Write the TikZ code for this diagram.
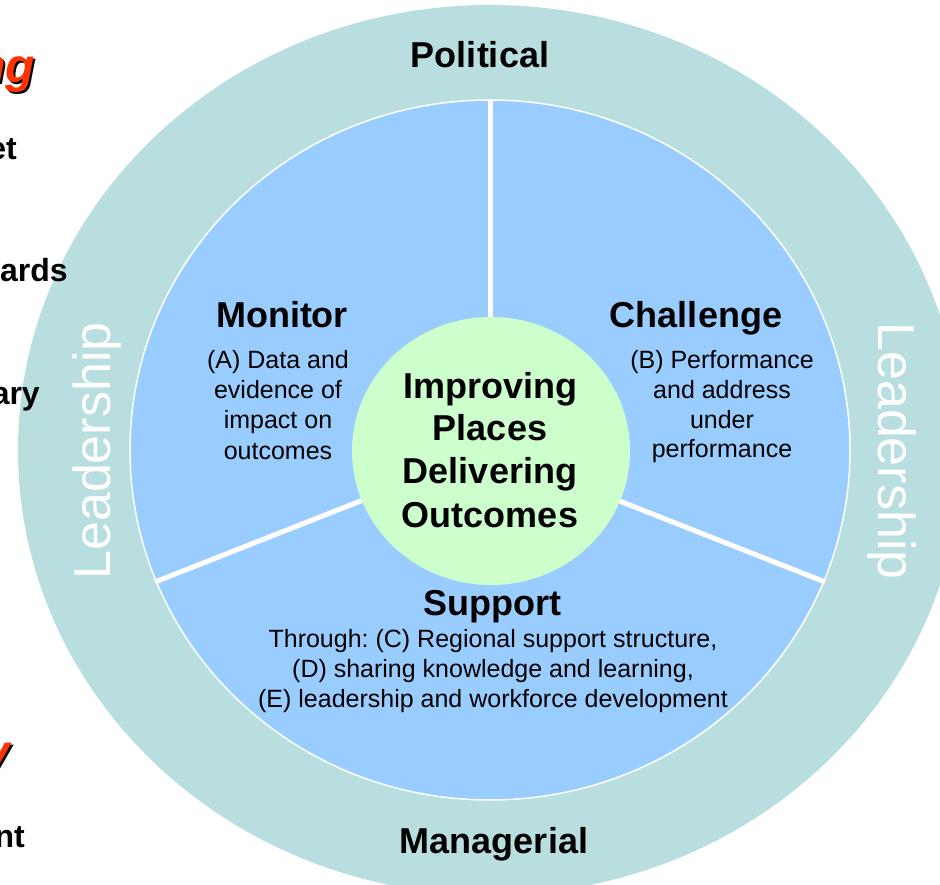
\documentclass[tikz,border=0pt]{standalone}
\usepackage{fontspec}
\setmainfont{Liberation Sans}
\frenchspacing
\definecolor{ringteal}{HTML}{B8DEE0}
\definecolor{wheelblue}{HTML}{99CCFF}
\definecolor{hubgreen}{HTML}{CCFFCC}
\definecolor{slideorange}{HTML}{FF3300}
\begin{document}
\begin{tikzpicture}[x=1pt,y=-1pt,
  big/.style={font=\fontsize{36}{41}\selectfont\bfseries, inner sep=0pt, anchor=base},
  small/.style={font=\fontsize{25}{30}\selectfont, inner sep=0pt, anchor=base},
  lead/.style={font=\fontsize{52}{60}\selectfont, text=white, inner sep=0pt, anchor=base},
  frag/.style={font=\fontsize{32}{38}\selectfont\bfseries, inner sep=0pt, anchor=base east},
  fragor/.style={font=\fontsize{48}{56}\selectfont\bfseries\itshape, inner sep=0pt, anchor=base east, text=slideorange},
  fragsh/.style={font=\fontsize{48}{56}\selectfont\bfseries\itshape, inner sep=0pt, anchor=base east, text=black},
  divider/.style={draw=white, line width=5pt}]
\useasboundingbox (0,0) rectangle (940,885);
\clip (0,0) rectangle (940,885);
\fill[white] (0,0) rectangle (940,885);

\coordinate (c) at (490,450);
\fill[ringteal] (c) ellipse [x radius=472pt, y radius=445pt];
\fill[wheelblue] (c) ellipse [x radius=360pt, y radius=350pt];
\draw[white, line width=1.5pt] (c) ellipse [x radius=360pt, y radius=350pt];

\coordinate (dtop) at (490,100);
\coordinate (dleft) at (155,582);
\coordinate (dright) at (825,582);
\draw[divider] (c) -- (dtop);
\draw[divider] (c) -- (dleft);
\draw[divider] (c) -- (dright);

\coordinate (hubc) at (491,451);
\fill[hubgreen] (hubc) ellipse [x radius=139pt, y radius=134pt];

% hub text
\node[big] (h1) at (490,398) {Improving};
\node[big] (h2) at (490,440) {Places};
\node[big] (h3) at (490,483) {Delivering};
\node[big] (h4) at (490,527) {Outcomes};

% Monitor
\node[big] (mon) at (282,327) {Monitor};
\node[small] (mon1) at (278,369) {(A) Data and};
\node[small] (mon2) at (278,398) {evidence of};
\node[small] (mon3) at (278,428) {impact on};
\node[small] (mon4) at (278,459) {outcomes};

% Challenge
\node[big] (cha) at (696,327) {Challenge};
\node[small] (cha1) at (722,369) {(B) Performance};
\node[small] (cha2) at (722,398) {and address};
\node[small] (cha3) at (722,428) {under};
\node[small] (cha4) at (722,457) {performance};

% Support
\node[big] (sup) at (492,615) {Support};
\node[small] (sup1) at (493,647) {Through: (C) Regional support structure,};
\node[small] (sup2) at (493,677) {(D) sharing knowledge and learning,};
\node[small] (sup3) at (493,707) {(E) leadership and workforce development};

% ring labels
\node[big] (pol) at (480,68) {Political};
\node[big] (man) at (494,853) {Managerial};
\node[lead, rotate=90] (leadl) at (110,451) {Leadership};
\node[lead, rotate=-90] (leadr) at (878,451) {Leadership};

% fragments of slide text at the left edge
\node[fragsh] (or1s) at (37,85) {ng};
\node[fragor] (or1) at (35,83) {ng};
\node[frag] (f1) at (17,160) {et};
\node[frag] (f2) at (68,282) {ards};
\node[frag] (f3) at (40,404) {ary};
\node[fragsh] (or2s) at (12,770) {y};
\node[fragor] (or2) at (10,768) {y};
\node[frag] (f4) at (25,847) {nt};
\end{tikzpicture}
\end{document}
